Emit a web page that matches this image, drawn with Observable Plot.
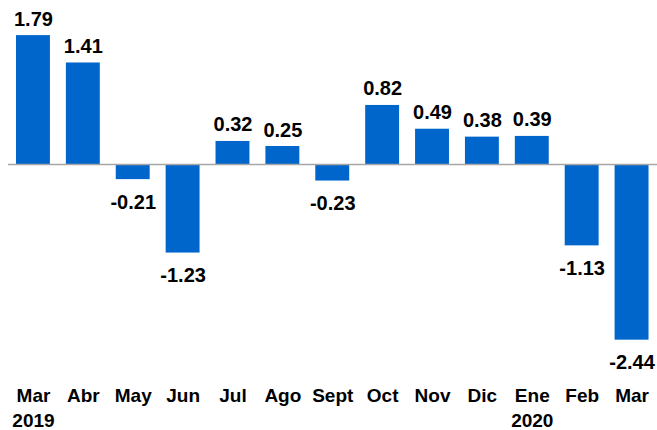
<!DOCTYPE html>
<html>
<head>
<meta charset="utf-8">
<script src="https://cdn.jsdelivr.net/npm/d3@7"></script>
<script src="https://cdn.jsdelivr.net/npm/@observablehq/plot@0.6"></script>
<style>
  html, body { margin: 0; padding: 0; background: #fff; }
  #chart { width: 657px; height: 430px; }
</style>
</head>
<body>
<div id="chart"></div>
<script>
const periods = ["Mar\n2019", "Abr", "May", "Jun", "Jul", "Ago", "Sept", "Oct", "Nov", "Dic", "Ene\n2020", "Feb", "Mar"];
const values = [1.79, 1.41, -0.21, -1.23, 0.32, 0.25, -0.23, 0.82, 0.49, 0.38, 0.39, -1.13, -2.44];

const data = periods.map((p, i) => ({period: p, value: values[i]}));
const fmt = v => v.toFixed(2);

const chart = Plot.plot({
  width: 657,
  height: 430,
  marginLeft: 11,
  marginRight: 3.5,
  marginTop: 20,
  marginBottom: 78.8,
  style: {fontFamily: "'Liberation Sans', Arial, sans-serif", background: "#fff"},
  x: {domain: periods, paddingInner: 0.32, paddingOuter: 0.1, round: false, axis: null},
  y: {domain: [-2.6, 2.0], axis: null},
  marks: [
    Plot.barY(data, {x: "period", y: "value", fill: "#0066cc"}),
    Plot.ruleY([0], {stroke: "#a6a6a6", strokeWidth: 1.5, insetLeft: -3, insetRight: -4}),
    Plot.text(data.filter(d => d.value >= 0), {
      x: "period", y: "value", text: d => fmt(d.value),
      lineAnchor: "bottom", dy: -10, fontSize: 20, fontWeight: "bold", fill: "#000"
    }),
    Plot.text(data.filter(d => d.value < 0), {
      x: "period", y: "value", text: d => fmt(d.value),
      lineAnchor: "top", dy: 15, fontSize: 20, fontWeight: "bold", fill: "#000"
    }),
    Plot.text(data, {
      x: "period", text: "period", frameAnchor: "bottom",
      lineAnchor: "top", dy: 33, lineHeight: 1.3,
      fontSize: 19, fontWeight: "bold", fill: "#000"
    })
  ]
});
document.getElementById("chart").appendChild(chart);
</script>
</body>
</html>
